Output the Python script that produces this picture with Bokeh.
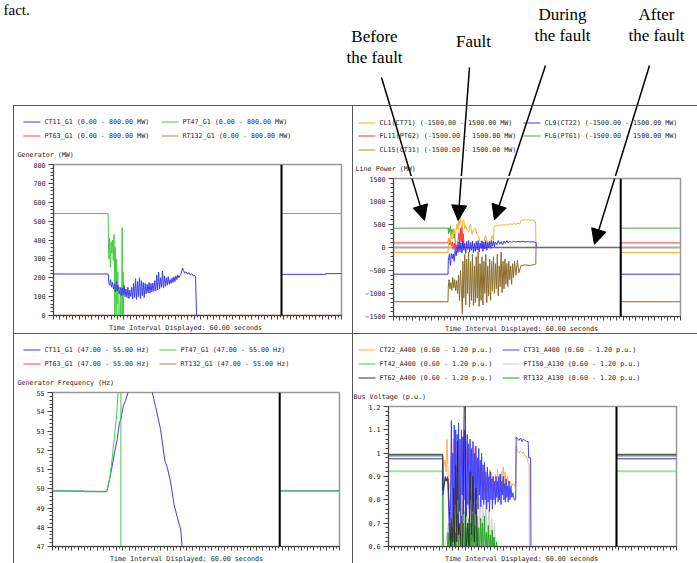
import numpy as np
from bokeh.plotting import figure
from bokeh.models import Range1d, FixedTicker, Span, Arrow, NormalHead
from bokeh.layouts import column, row
from bokeh.core.properties import value
from bokeh.embed import file_html
from bokeh.resources import INLINE

TIME_SPAN = 60.0
CURSOR_T = 47.5
MONO = "DejaVu Sans Mono"
FS = "6.7px"
AXIS_TITLE = "Time Interval Displayed: 60.00 seconds"

# ---------------- Generator (MW) ----------------
gen_ct11 = [(0, 220), (11.4, 220), (11.5, 178), (11.7, 160), (11.9, 190), (12.1, 150), (12.3, 175), (12.5, 140),
            (12.7, 168), (12.9, 125), (13.1, 180), (13.3, 130), (13.5, 160), (13.7, 115), (13.9, 150), (14.1, 105),
            (14.3, 145), (14.5, 110), (14.7, 160), (14.9, 100), (15.1, 140), (15.3, 95), (15.5, 150), (15.7, 90),
            (15.9, 135), (16.1, 100), (16.3, 150), (16.5, 88), (16.7, 170), (16.9, 95), (17.1, 195), (17.3, 85),
            (17.5, 180), (17.7, 100), (17.9, 200), (18.1, 90), (18.3, 185), (18.5, 105), (18.7, 175), (18.9, 95),
            (19.1, 170), (19.3, 115), (19.5, 165), (19.7, 120), (19.9, 175), (20.1, 118), (20.3, 170), (20.5, 125),
            (20.7, 172), (20.9, 128), (21.1, 185), (21.3, 130), (21.5, 215), (21.7, 135), (21.9, 230), (22.1, 140),
            (22.3, 200), (22.5, 150), (22.7, 235), (22.9, 145), (23.1, 210), (23.3, 155), (23.5, 200), (23.7, 160),
            (23.9, 205), (24.1, 165), (24.3, 190), (24.5, 170), (24.7, 200), (24.9, 175), (25.1, 205), (25.3, 180),
            (25.5, 210), (25.7, 190), (25.9, 215), (26.1, 200), (26.3, 210), (26.5, 215), (26.7, 235), (26.9, 252),
            (27.1, 238), (27.3, 225), (27.6, 232), (27.9, 218), (28.2, 228), (28.5, 215), (28.8, 222), (29.1, 210),
            (29.4, 212), (29.6, 205), (29.8, 0), (47.5, 0), (47.5, 218), (56.7, 218), (56.7, 222), (60, 222)]
gen_pt47 = [(0, 540), (11.4, 540), (11.42, 395), (11.55, 300), (11.7, 410), (11.85, 255), (12.0, 390), (12.15, 330),
            (12.3, 400), (12.45, 290), (12.6, 430), (12.7, 320), (12.75, 0), (12.85, 360), (12.95, 250), (13.05, 0),
            (13.15, 300), (13.25, 60), (13.4, 230), (13.5, 0), (13.8, 0), (13.9, 120), (14.0, 0), (14.2, 0),
            (14.3, 466), (14.4, 0), (14.5, 232), (14.6, 0), (47.5, 0), (47.5, 540), (60, 540)]
gen_pt63 = [(0, 0), (60, 0)]
gen_rt132 = [(0, 0), (60, 0)]

# ---------------- Line Power (MW) ----------------
lp_cl1 = [(0, -110), (11.4, -110), (11.5, 120), (11.6, 200), (11.8, 100), (12.0, 300), (12.2, 180), (12.3, 333),
          (12.5, 250), (12.65, 420), (12.8, 300), (13.0, 290), (13.15, 450), (13.3, 514), (13.5, 380), (13.65, 660),
          (13.8, 500), (14.0, 690), (14.2, 450), (14.4, 420), (14.55, 600), (14.7, 587), (14.9, 400), (15.05, 478),
          (15.4, 380), (15.75, 333), (15.9, 450), (16.1, 514), (16.4, 290), (16.7, 380), (17.1, 420), (17.4, 300),
          (17.8, 225), (18.1, 120), (18.5, 152), (18.8, 60), (19.2, 261), (19.5, 150), (19.9, 116), (20.2, 40),
          (20.6, 261), (20.9, 150), (21.0, 430), (21.3, 480), (21.6, 455), (21.9, 490), (22.2, 470), (22.5, 505),
          (22.8, 480), (23.1, 500), (23.4, 485), (23.7, 510), (24.0, 495), (24.4, 515), (24.8, 500), (25.2, 520),
          (25.6, 505), (26.0, 525), (26.4, 510), (26.7, 600), (27.0, 590), (27.4, 605), (27.8, 595), (28.2, 610),
          (28.6, 590), (29.0, 600), (29.4, 580), (29.7, 570), (29.8, 0), (47.5, 0), (47.5, -110), (60, -110)]
lp_cl9 = [(0, -580), (11.4, -580), (11.45, -280), (11.7, -140), (11.9, -390), (12.1, -130), (12.3, -240),
          (12.5, -140), (12.7, -300), (12.9, -60), (13.1, -180), (13.3, 10), (13.5, -110), (13.7, 120), (13.9, -90),
          (14.1, 100), (14.3, -120), (14.5, 140), (14.7, -60), (14.9, 90), (15.1, -130), (15.3, 130), (15.5, -40),
          (15.7, 150), (15.9, -100), (16.1, 110), (16.3, -60), (16.5, 140), (16.7, -110), (16.9, 90), (17.1, -80),
          (17.3, 130), (17.5, -50), (17.7, 150), (17.9, -100), (18.1, 100), (18.3, -20), (18.5, 140), (18.7, -80),
          (18.9, 120), (19.1, -30), (19.3, 150), (19.5, -60), (19.7, 110), (19.9, 0), (20.1, 130), (20.3, -20),
          (20.5, 150), (20.7, 30), (20.9, 140), (21.1, 20), (21.3, 120), (21.6, 60), (21.9, 150), (22.2, 70),
          (22.5, 130), (22.8, 60), (23.1, 140), (23.4, 90), (23.7, 150), (24.0, 100), (24.3, 130), (24.7, 110),
          (25.1, 135), (25.5, 120), (26.0, 130), (26.5, 125), (27.0, 135), (27.5, 120), (28.0, 130), (28.5, 118),
          (29.0, 125), (29.5, 115), (29.8, 110), (29.85, 0), (47.5, 0), (47.5, -580), (60, -580)]
lp_fl11 = [(0, 100), (11.4, 100), (11.5, 190), (11.7, 60), (11.9, 160), (12.1, 40), (12.3, 120), (12.5, -40),
           (12.7, 90), (12.9, -60), (13.1, 60), (13.3, -30), (13.5, 150), (13.7, 320), (13.85, 80), (14.0, 420),
           (14.15, 120), (14.3, 460), (14.45, 60), (14.6, 300), (14.75, 0), (47.5, 0), (47.5, 100), (60, 100)]
lp_fl6 = [(0, 420), (11.4, 420), (11.5, 300), (11.6, 430), (11.75, 330), (11.9, 460), (12.05, 280), (12.2, 400),
          (12.35, 310), (12.5, 380), (12.65, 200), (12.8, 300), (12.9, 120), (13.0, 0), (47.5, 0), (47.5, 420),
          (60, 420)]
lp_cl15 = [(0, -1180), (11.4, -1180), (11.45, -860), (11.6, -700), (11.8, -900), (12.0, -760), (12.2, -930),
           (12.4, -650), (12.6, -880), (12.8, -700), (13.0, -940), (13.2, -720), (13.4, -1000), (13.6, -600),
           (13.8, -1150), (14.0, -500), (14.2, -900), (14.4, -1450), (14.5, -300), (14.7, -1100), (14.9, -150),
           (15.1, -1250), (15.3, -250), (15.5, -1000), (15.7, -100), (15.9, -1300), (16.1, -300), (16.3, -1150),
           (16.5, -150), (16.7, -1260), (16.9, -400), (17.1, -1200), (17.3, -200), (17.5, -1100), (17.7, -100),
           (17.9, -1280), (18.1, -350), (18.3, -1150), (18.5, -200), (18.7, -1250), (18.9, -300), (19.1, -1000),
           (19.3, -150), (19.5, -1200), (19.7, -400), (19.9, -1050), (20.1, -250), (20.3, -1150), (20.5, -300),
           (20.7, -950), (20.9, -200), (21.1, -1000), (21.3, -350), (21.5, -900), (21.7, -150), (21.9, -1050),
           (22.1, -400), (22.3, -850), (22.5, -100), (22.7, -980), (22.9, -300), (23.1, -900), (23.3, -250),
           (23.5, -800), (23.7, -350), (23.9, -850), (24.1, -300), (24.3, -700), (24.5, -400), (24.7, -800),
           (24.9, -350), (25.1, -650), (25.3, -300), (25.6, -600), (25.9, -280), (26.2, -550), (26.5, -450),
           (26.7, -390), (27.5, -380), (28.5, -390), (29.5, -370), (29.75, -360), (29.8, 0), (47.5, 0),
           (47.5, -1180), (60, -1180)]

# ---------------- Generator Frequency (Hz) ----------------
fr_ct11 = [(0, 49.89), (11.35, 49.86), (11.8, 50.33), (12.5, 51.2), (13.0, 51.9), (13.55, 52.6), (13.97, 53.38),
           (14.25, 53.6), (14.8, 54.3), (15.3, 54.6), (15.8, 55.0), (17.0, 55.6), (18.5, 55.9), (20.0, 55.6),
           (20.86, 55.0), (21.55, 54.27), (22.6, 53.07), (23.5, 51.45), (24.0, 51.1), (24.7, 50.33), (25.4, 49.2),
           (26.1, 48.5), (26.8, 47.9), (27.1, 47.0), (27.6, 46.4), (29.8, 45.2), (29.8, 0), (47.5, 0),
           (47.5, 49.89), (60, 49.89)]
fr_pt47 = [(0, 49.89), (6.6, 49.89), (6.6, 49.84), (11.35, 49.84), (12.0, 50.6), (12.5, 51.63), (12.97, 52.76),
           (13.4, 53.8), (13.7, 54.97), (13.9, 55.6), (14.3, 55.6), (14.3, 0), (47.5, 0), (47.5, 49.89), (60, 49.89)]
fr_pt63 = [(0, 0), (60, 0)]
fr_rt132 = [(0, 0), (60, 0)]

# ---------------- Bus Voltage (p.u.) ----------------
bv_ft150 = [(0, 0.985), (11.3, 0.985), (11.35, 0.65), (11.6, 0.6), (12.0, 0.62), (12.5, 0.7), (12.8, 0.6),
            (13.1, 0.75), (13.4, 0.62), (13.7, 0.8), (14.0, 0.6), (14.3, 0.78), (14.6, 0.62), (14.9, 0.82),
            (15.2, 0.6), (15.5, 0.8), (15.8, 0.63), (16.1, 0.85), (16.4, 0.62), (16.7, 0.84), (17.0, 0.6),
            (17.3, 0.82), (17.6, 0.65), (17.9, 0.83), (18.2, 0.6), (18.5, 0.8), (18.8, 0.62), (19.1, 0.81),
            (19.4, 0.6), (19.7, 0.78), (20.0, 0.63), (20.3, 0.8), (20.6, 0.6), (20.9, 0.76), (21.2, 0.62),
            (21.5, 0.72), (21.8, 0.6), (22.1, 0.7), (22.4, 0.55), (29.9, 0.5), (47.5, 0.5), (47.5, 0.985), (60, 0.985)]
bv_ft42 = [(0, 0.923), (11.3, 0.923), (11.3, 0.5), (47.5, 0.5), (47.5, 0.923), (60, 0.923)]
bv_rt132 = [(0, 0.989), (11.3, 0.989), (11.35, 0.55), (12.2, 0.55), (12.4, 0.66), (12.6, 0.58), (12.8, 0.7),
            (13.0, 0.57), (13.2, 0.68), (13.4, 0.56), (13.6, 0.72), (13.8, 0.57), (14.0, 0.66), (14.2, 0.55),
            (14.4, 0.74), (14.6, 0.58), (14.8, 0.69), (15.0, 0.56), (15.2, 0.73), (15.4, 0.57), (15.6, 0.7),
            (15.8, 0.55), (16.0, 0.75), (16.2, 0.58), (16.4, 0.68), (16.6, 0.56), (16.8, 0.72), (17.0, 0.57),
            (17.2, 0.7), (17.4, 0.56), (17.6, 0.74), (17.8, 0.58), (18.0, 0.69), (18.2, 0.55), (18.4, 0.73),
            (18.6, 0.57), (18.8, 0.68), (19.0, 0.56), (19.2, 0.72), (19.4, 0.58), (19.6, 0.7), (19.8, 0.56),
            (20.0, 0.73), (20.2, 0.57), (20.4, 0.66), (20.6, 0.55), (20.8, 0.69), (21.0, 0.57), (21.2, 0.65),
            (21.4, 0.55), (21.6, 0.67), (21.8, 0.56), (22.0, 0.64), (22.2, 0.55), (22.5, 0.62), (22.8, 0.5),
            (47.5, 0.5), (47.5, 0.989), (60, 0.989)]
bv_ct22 = [(0, 0.976), (11.3, 0.976), (11.35, 0.93), (11.6, 0.95), (11.8, 0.97), (12.0, 0.92), (12.2, 1.06),
           (12.35, 0.95), (12.5, 0.88), (12.7, 0.86), (12.9, 0.84), (13.1, 1.0), (13.3, 0.9), (13.5, 1.06),
           (13.7, 0.93), (13.9, 1.08), (14.1, 0.96), (14.3, 1.05), (14.5, 0.92), (14.7, 1.06), (14.9, 0.95),
           (15.1, 1.04), (15.3, 0.9), (15.5, 1.05), (15.7, 0.93), (15.9, 1.03), (16.1, 0.94), (16.3, 1.02),
           (16.5, 0.92), (16.7, 1.04), (16.9, 0.95), (17.1, 1.01), (17.3, 0.9), (17.5, 1.0), (17.7, 0.92),
           (17.9, 1.02), (18.1, 0.93), (18.3, 0.99), (18.5, 0.9), (18.7, 0.97), (18.9, 0.88), (19.1, 0.95),
           (19.3, 0.86), (19.5, 0.93), (19.7, 0.84), (19.9, 0.92), (20.1, 0.82), (20.3, 0.9), (20.5, 0.83),
           (20.7, 0.91), (20.9, 0.84), (21.1, 0.93), (21.3, 0.85), (21.5, 0.92), (21.7, 0.84), (21.9, 0.9),
           (22.1, 0.83), (22.3, 0.91), (22.5, 0.85), (22.7, 0.93), (22.9, 0.86), (23.1, 0.91), (23.3, 0.84),
           (23.5, 0.92), (23.7, 0.86), (23.9, 0.94), (24.1, 0.87), (24.3, 0.92), (24.5, 0.85), (24.8, 0.9),
           (25.1, 0.86), (25.4, 0.88), (25.7, 0.86), (26.0, 0.87), (26.3, 0.86), (26.5, 0.87), (26.6, 1.03),
           (26.9, 1.01), (27.2, 1.0), (27.5, 1.01), (27.8, 1.0), (28.1, 1.005), (28.4, 0.99), (28.8, 0.985),
           (29.0, 0.965), (29.3, 0.95), (29.35, 0.5), (47.5, 0.5), (47.5, 0.976), (60, 0.976)]
bv_ct31 = [(0, 0.976), (11.3, 0.976), (11.35, 0.82), (11.6, 0.86), (11.8, 0.9), (12.0, 0.88), (12.3, 0.9),
           (12.5, 0.79), (12.7, 0.63), (12.9, 0.75), (13.1, 1.14), (13.25, 0.72), (13.4, 1.0), (13.55, 0.7),
           (13.7, 1.12), (13.85, 0.78), (14.0, 1.1), (14.15, 0.72), (14.3, 1.08), (14.45, 0.8), (14.6, 1.13),
           (14.75, 0.75), (14.9, 1.06), (15.05, 0.7), (15.2, 1.1), (15.35, 0.82), (15.5, 1.07), (15.65, 0.74),
           (15.8, 1.1), (15.95, 0.8), (16.1, 1.05), (16.25, 0.73), (16.4, 1.08), (16.55, 0.78), (16.7, 1.04),
           (16.85, 0.76), (17.0, 1.06), (17.15, 0.8), (17.3, 1.02), (17.45, 0.75), (17.6, 1.05), (17.75, 0.79),
           (17.9, 1.0), (18.05, 0.74), (18.2, 1.03), (18.35, 0.8), (18.5, 0.98), (18.65, 0.76), (18.8, 1.02),
           (18.95, 0.82), (19.1, 0.97), (19.25, 0.77), (19.4, 1.0), (19.55, 0.8), (19.7, 0.95), (19.85, 0.78),
           (20.0, 0.96), (20.15, 0.8), (20.3, 0.92), (20.45, 0.76), (20.6, 0.94), (20.75, 0.79), (20.9, 0.9),
           (21.05, 0.75), (21.2, 0.92), (21.35, 0.8), (21.5, 0.89), (21.65, 0.76), (21.8, 0.9), (21.95, 0.8),
           (22.1, 0.88), (22.25, 0.78), (22.4, 0.9), (22.55, 0.81), (22.7, 0.88), (22.85, 0.79), (23.0, 0.9),
           (23.15, 0.8), (23.3, 0.91), (23.45, 0.78), (23.6, 0.88), (23.75, 0.82), (23.9, 0.9), (24.05, 0.8),
           (24.2, 0.87), (24.35, 0.79), (24.5, 0.89), (24.65, 0.81), (24.8, 0.86), (24.95, 0.79), (25.1, 0.88),
           (25.3, 0.8), (25.5, 0.86), (25.7, 0.81), (25.9, 0.83), (26.2, 0.8), (26.5, 0.8), (26.6, 1.07),
           (26.9, 1.06), (27.2, 1.055), (27.5, 1.065), (27.8, 1.05), (28.1, 1.06), (28.4, 1.055), (28.8, 1.05),
           (29.1, 1.05), (29.2, 0.98), (29.6, 0.98), (29.7, 0.5), (47.5, 0.5), (47.5, 0.976), (60, 0.976)]
bv_ft62 = [(0, 0.995), (11.3, 0.995), (11.35, 0.84), (11.6, 0.87), (11.9, 0.895), (12.1, 0.88), (12.4, 0.89),
           (12.7, 0.75), (13.0, 0.6), (13.2, 0.72), (13.4, 0.62), (13.6, 0.85), (13.8, 0.6), (14.0, 0.95),
           (14.2, 0.62), (14.4, 1.05), (14.6, 0.65), (14.9, 0.7), (15.1, 0.6), (15.4, 0.55), (15.8, 1.25),
           (16.0, 1.25), (16.1, 0.55), (16.5, 0.7), (16.8, 0.6), (17.0, 0.92), (17.3, 0.65), (17.6, 0.9),
           (17.9, 0.62), (18.2, 0.85), (18.5, 0.6), (18.8, 0.5), (47.5, 0.5), (47.5, 0.995), (60, 0.995)]

# ---------------- annotations above the chart ----------------
note_texts = [["Before", "the fault"], ["Fault"], ["During", "the fault"], ["After", "the fault"]]
note_text_xy = [(374, 41.7), (473, 46.7), (562, 20), (656, 20)]    # page px: centre x, first baseline
note_line_start = [(381, 77), (469, 67), (545, 65), (649, 65)]     # page px
note_tip = [(6.5, 590), (13.5, 590), (21.1, 600), (42.0, 70)]       # data (s, MW) in Line Power

BLUE, GREEN, RED, BROWN = "#3c3cf2", "#44cc44", "#ff4040", "#c0803c"


def pts(series):
    return [a for a, _ in series], [b for _, b in series]


def info_fig(w, h):
    f = figure(width=w, height=h, x_range=Range1d(0, w), y_range=Range1d(h, 0), output_backend="svg",
               toolbar_location=None, min_border=0, border_fill_alpha=0, background_fill_alpha=0,
               x_axis_location=None, y_axis_location=None, frame_align=False)
    f.grid.visible = False
    f.outline_line_color = None
    return f


def plot_fig(w, fl, fw, fh, yr, ymaj, ymin, top=2, bottom=6):
    p = figure(width=w, height=top + fh + bottom, x_range=Range1d(0, TIME_SPAN), y_range=Range1d(*yr),
               output_backend="svg", toolbar_location=None, frame_align=False,
               min_border_left=fl, min_border_top=top, min_border_right=w - fl - fw,
               min_border_bottom=bottom, border_fill_alpha=0)
    p.xgrid.visible = False
    p.ygrid.visible = False
    p.outline_line_color = "#999999"
    p.outline_line_width = 1.5
    xa = p.xaxis[0]
    majors = [round(v, 4) for v in np.arange(0, 60.01, 4 / 3)]
    xa.ticker = FixedTicker(ticks=majors, minor_ticks=list(np.arange(0, 60.01, 2 / 3)))
    xa.major_label_overrides = {m: "" for m in majors}
    xa.major_label_text_font_size = "1px"
    xa.major_label_standoff = 0
    ya = p.yaxis[0]
    ya.ticker = FixedTicker(ticks=ymaj, minor_ticks=ymin)
    ya.major_label_text_font = MONO
    ya.major_label_text_font_size = FS
    ya.major_label_text_color = "#222222"
    ya.major_label_standoff = 3
    for a in (xa, ya):
        a.axis_line_color = "#444444"
        a.major_tick_line_color = "#444444"
        a.minor_tick_line_color = "#444444"
        a.major_tick_in = 0
        a.minor_tick_in = 0
        a.major_tick_out = 4
        a.minor_tick_out = 2
    ya.major_tick_out = 5
    ya.minor_tick_out = 3
    p.add_layout(Span(location=CURSOR_T, dimension="height", line_color="black", line_width=2))
    return p


def footer_fig(w, h, cx, cy):
    f = info_fig(w, h)
    f.text(x=[cx], y=[cy], text=[AXIS_TITLE], text_font=value(MONO), text_font_size=value(FS),
           text_align="center", text_baseline="middle", text_color="#222222")
    return f


def add_lines(p, specs):
    for series, color, lw, alpha in specs:
        x, y = pts(series)
        p.line(x, y, line_color=color, line_width=lw, line_alpha=alpha)


def draw_legend(f, entries, x0, rows_y, dx, title, title_xy):
    sx0, sx1, sy, tx, ty, tt, cols = [], [], [], [], [], [], []
    for i, (label, color) in enumerate(entries):
        r, c = divmod(i, 2)
        x = x0 + c * dx
        sx0.append(x)
        sx1.append(x + 17)
        sy.append(rows_y[r] + 0.5)
        tx.append(x + 21)
        ty.append(rows_y[r])
        tt.append(label)
        cols.append(color)
    f.segment(x0=sx0, y0=sy, x1=sx1, y1=sy, line_color=cols, line_width=1)
    f.text(x=tx + [title_xy[0]], y=ty + [title_xy[1]], text=tt + [title], text_font=value(MONO),
           text_font_size=value(FS), text_baseline="middle", text_color="#222222")


SHADOW = {"box-shadow": "inset 1px 1px 0 0 #555555"}
LEFT_X, RIGHT_X, TOP_Y, MID_Y = 13, 352, 105, 333

# ---- top-left: Generator (MW)
i1 = info_fig(339, 57)
p1 = plot_fig(339, 40, 288, 151, (0, 800), list(range(0, 801, 100)), list(range(0, 801, 20)))
f1 = footer_fig(339, 12, 172, 6)
add_lines(p1, [(gen_pt63, RED, 1, 1), (gen_rt132, BROWN, 1.5, 1), (gen_pt47, GREEN, 1, 1), (gen_ct11, BLUE, 1, 1)])
draw_legend(i1, [("CT11_G1 (0.00 - 800.00 MW)", BLUE), ("PT47_G1 (0.00 - 800.00 MW)", GREEN),
                 ("PT63_G1 (0.00 - 800.00 MW)", RED), ("RT132_G1 (0.00 - 800.00 MW)", BROWN)],
            10, [16, 30], 138, "Generator (MW)", (4, 49))

# ---- top-right: Line Power (MW)
TR_INFO_H, TR_FL, TR_FW, TR_FH = 71, 41, 287, 138
i2 = info_fig(345, TR_INFO_H)
p2 = plot_fig(345, TR_FL, TR_FW, TR_FH, (-1500, 1500), list(range(-1500, 1501, 500)), list(range(-1500, 1501, 100)))
f2 = footer_fig(345, 11, 169, 5.5)
p2.add_layout(Span(location=0, dimension="width", line_color="#aaaaaa", line_width=2, level="underlay"))
C_CL1, C_CL9, C_FL11, C_FL6, C_CL15 = "#f5b030", "#3333ff", "#ff3333", "#44aa44", "#8b6b2b"
add_lines(p2, [(lp_fl6, C_FL6, 1, 1), (lp_fl11, C_FL11, 1, 1), (lp_cl1, C_CL1, 1, 1), (lp_cl9, C_CL9, 1, 1),
               (lp_cl15, C_CL15, 1, 1)])
draw_legend(i2, [("CL1(CT71) (-1500.00 - 1500.00 MW)", C_CL1), ("CL9(CT22) (-1500.00 - 1500.00 MW)", C_CL9),
                 ("FL11(PT62) (-1500.00 - 1500.00 MW)", C_FL11), ("FL6(PT61) (-1500.00 - 1500.00 MW)", C_FL6),
                 ("CL15(CT31) (-1500.00 - 1500.00 MW)", "#b08a4a")],
            6, [17, 30, 44], 165, "Line Power (MW)", (3, 63))

# ---- bottom-left: Generator Frequency (Hz)
i3 = info_fig(339, 57)
p3 = plot_fig(339, 39, 287, 154, (47, 55), list(range(47, 56)), [47 + 0.2 * i for i in range(41)])
f3 = footer_fig(339, 11, 173, 5.5)
add_lines(p3, [(fr_pt63, RED, 1, 1), (fr_rt132, BROWN, 1, 1), (fr_ct11, BLUE, 1, 1), (fr_pt47, GREEN, 1, 1)])
draw_legend(i3, [("CT11_G1 (47.00 - 55.00 Hz)", BLUE), ("PT47_G1 (47.00 - 55.00 Hz)", GREEN),
                 ("PT63_G1 (47.00 - 55.00 Hz)", RED), ("RT132_G1 (47.00 - 55.00 Hz)", BROWN)],
            10, [16, 30], 136, "Generator Frequency (Hz)", (4, 49))

# ---- bottom-right: Bus Voltage (p.u.)
i4 = info_fig(345, 71)
p4 = plot_fig(345, 36, 288, 140, (0.6, 1.2), [0.6, 0.7, 0.8, 0.9, 1.0, 1.1, 1.2],
              [0.6 + 0.02 * i for i in range(31)])
f4 = footer_fig(345, 11, 169, 5.5)
C_CT22, C_CT31, C_FT42, C_FT150, C_FT62, C_RT132 = "#ffb040", "#4040ff", "#66cc66", "#cccccc", "#333333", "#22a022"
add_lines(p4, [(bv_ft150, C_FT150, 1, 1), (bv_ft42, C_FT42, 2, 0.6), (bv_rt132, C_RT132, 1, 1),
               (bv_ct22, C_CT22, 1, 1), (bv_ct31, C_CT31, 1, 1), (bv_ft62, C_FT62, 1, 1)])
draw_legend(i4, [("CT22_A400 (0.60 - 1.20 p.u.)", C_CT22), ("CT31_A400 (0.60 - 1.20 p.u.)", C_CT31),
                 ("FT42_A400 (0.60 - 1.20 p.u.)", "#44cc44"), ("FT150_A130 (0.60 - 1.20 p.u.)", C_FT150),
                 ("FT62_A400 (0.60 - 1.20 p.u.)", C_FT62), ("RT132_A130 (0.60 - 1.20 p.u.)", C_RT132)],
            6, [16, 30, 44], 144, "Bus Voltage (p.u.)", (1, 63))

# ---- header with the annotation texts and arrows
HW, HH = 697, TOP_Y
hdr = info_fig(HW, HH)
hdr.text(x=[3], y=[9], text=["fact."], text_font=value("Liberation Serif"), text_font_size=value("15px"),
         text_align="left", text_baseline="middle", text_color="black")

TR_FRAME_TOP = TOP_Y + TR_INFO_H + 2


def tr_page(t, v):
    return (RIGHT_X + TR_FL + t / TIME_SPAN * TR_FW, TR_FRAME_TOP + (1500 - v) / 3000 * TR_FH)


def tr_data(px, py):
    return ((px - RIGHT_X - TR_FL) / TR_FW * TIME_SPAN, 1500 - (py - TR_FRAME_TOP) / TR_FH * 3000)


for lines, (cx, by), (sx, sy), (tt, tv) in zip(note_texts, note_text_xy, note_line_start, note_tip):
    for k, s in enumerate(lines):
        hdr.text(x=[cx], y=[by - 6 + 21 * k], text=[s], text_font=value("Liberation Serif"),
                 text_font_size=value("17px"), text_align="center", text_baseline="middle", text_color="black")
    tx, ty = tr_page(tt, tv)

    def x_at(py):
        return sx + (tx - sx) * (py - sy) / (ty - sy)

    hdr.segment(x0=[sx], y0=[sy], x1=[x_at(TOP_Y)], y1=[HH], line_color="black", line_width=1.5)
    i2.segment(x0=[x_at(TOP_Y) - RIGHT_X], y0=[0], x1=[x_at(TOP_Y + TR_INFO_H) - RIGHT_X],
               y1=[TR_INFO_H], line_color="black", line_width=1.5)
    ct, cv = tr_data(x_at(TOP_Y + TR_INFO_H), TOP_Y + TR_INFO_H)
    p2.add_layout(Arrow(end=NormalHead(size=15, fill_color="black", line_color="black"),
                        x_start=ct, y_start=cv, x_end=tt, y_end=tv, line_color="black", line_width=1.5))

tl = column(i1, p1, f1, margin=(0, 0, 0, LEFT_X), styles=SHADOW)
tr = column(i2, p2, f2, styles=SHADOW)
bl = column(i3, p3, f3, margin=(0, 0, 0, LEFT_X), styles=SHADOW)
br = column(i4, p4, f4, styles=SHADOW)
layout = column(hdr, row(tl, tr), row(bl, br))
open("out.html", "w").write(file_html(layout, INLINE))
